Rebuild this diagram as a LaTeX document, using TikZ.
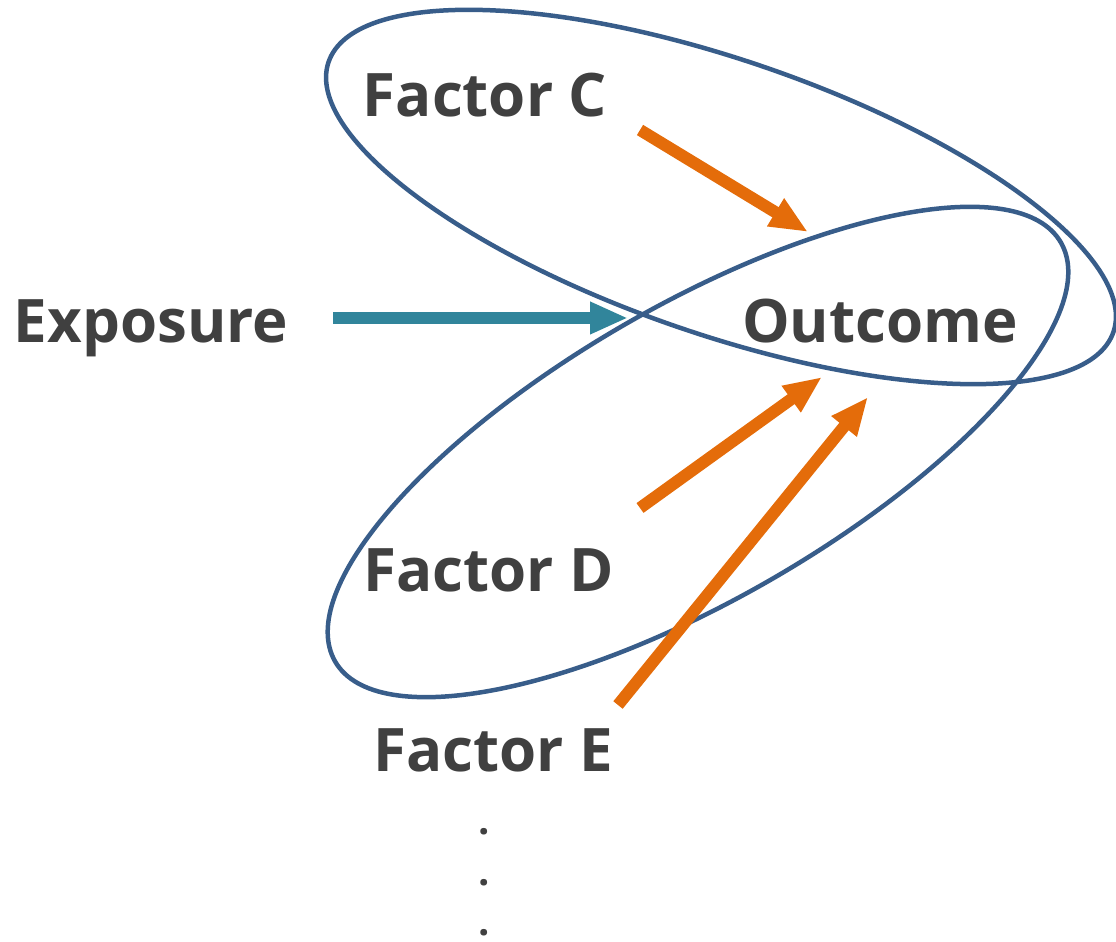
\documentclass[tikz,border=0pt]{standalone}
\usepackage{fontspec}
\setmainfont{Open Sans}
\usetikzlibrary{arrows.meta}
\definecolor{txtgray}{RGB}{64,64,64}
\definecolor{ringblue}{RGB}{56,93,138}
\definecolor{expteal}{RGB}{49,133,155}
\definecolor{factorange}{RGB}{228,108,10}
\tikzset{
  label/.style={font=\fontsize{60}{62}\selectfont\bfseries, text=txtgray, inner sep=0pt, anchor=base},
  ring/.style={draw=ringblue, line width=4.5pt},
  exparrow/.style={draw=expteal, line width=12pt, -{Triangle[length=38pt,width=30pt]}},
  facarrow/.style={draw=factorange, line width=12pt, -{Triangle[length=38pt,width=30pt]}},
  dotmark/.style={font=\fontsize{40}{40}\selectfont\bfseries, text=txtgray, inner sep=0pt}
}
\begin{document}
\begin{tikzpicture}[x=1pt,y=1pt]
\useasboundingbox (0,0) rectangle (1116,942);
% labels (baselines)
\node[label] (facC) at (485,942-117) {Factor C};
\node[label] (expo) at (151,942-343) {Exposure};
\node[label] (outc) at (880,942-343) {Outcome};
\node[label] (facD) at (489,942-592) {Factor D};
\node[label] (facE) at (493,942-772) {Factor E};
% vertical ellipsis
\node[dotmark] (dotA) at (484,942-832) {.};
\node[dotmark] (dotB) at (484,942-883) {.};
\node[dotmark] (dotC) at (484,942-933) {.};
% arrow end points
\coordinate (expS) at (333,942-318);
\coordinate (expT) at (628,942-318);
\coordinate (cS) at (640,942-130);
\coordinate (cT) at (808,942-232);
\coordinate (dS) at (640,942-508);
\coordinate (dT) at (822,942-377);
\coordinate (eS) at (618,942-705);
\coordinate (eT) at (868,942-397);
% exposure arrow beneath the rings
\draw[exparrow] (expS) -- (expT);
% two overlapping rings
\draw[ring, rotate around={-19:(721,745)}] (721,745) ellipse [x radius=415, y radius=137];
\draw[ring, rotate around={30:(698,490)}] (698,490) ellipse [x radius=419, y radius=147];
% factor arrows
\draw[facarrow] (cS) -- (cT);
\draw[facarrow] (dS) -- (dT);
\draw[facarrow] (eS) -- (eT);
\end{tikzpicture}
\end{document}
